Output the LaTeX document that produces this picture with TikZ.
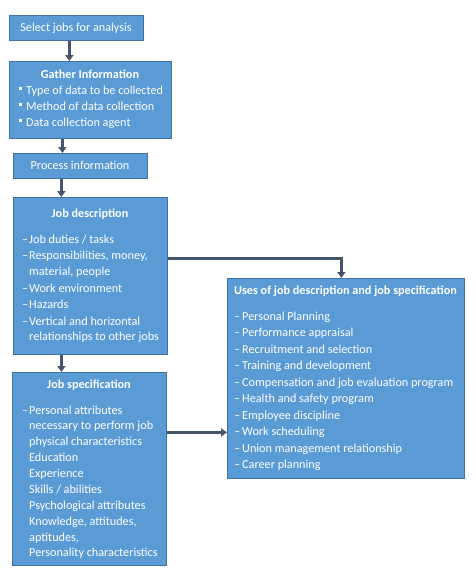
\documentclass[tikz,border=0pt]{standalone}
\usepackage{fontspec}
\setmainfont{Carlito}
\usetikzlibrary{arrows.meta,calc}
\definecolor{boxfill}{HTML}{5B9BD5}
\definecolor{boxline}{HTML}{41719C}
\definecolor{arrowc}{HTML}{44546A}
\newcommand{\fsz}{\fontsize{12.2}{14}\selectfont}
\tikzset{
  box/.style={draw=boxline, fill=boxfill, line width=0.8pt, inner sep=0pt, anchor=north west},
  txt/.style={text=white, font=\fsz, inner sep=0pt, anchor=base west},
  ttl/.style={text=white, font=\fsz\bfseries, inner sep=0pt, anchor=base},
  ctxt/.style={text=white, font=\fsz, inner sep=0pt, anchor=base},
  conn/.style={draw=arrowc, line width=2.8pt, -{Triangle[width=8pt,length=6pt]}},
  bul/.style={fill=white, inner sep=0pt, minimum size=3pt}
}
\begin{document}
\begin{tikzpicture}[x=1pt,y=-1pt]
\useasboundingbox (0,0) rectangle (475,574);
% boxes
\node[box, minimum width=134pt, minimum height=25pt] (b1) at (9,15) {};
\node[box, minimum width=162pt, minimum height=77pt] (b2) at (9,61) {};
\node[box, minimum width=134pt, minimum height=25pt] (b3) at (13,153) {};
\node[box, minimum width=154pt, minimum height=157pt] (b4) at (13,197) {};
\node[box, minimum width=154pt, minimum height=193pt] (b5) at (12,372) {};
\node[box, minimum width=237pt, minimum height=200pt] (b6) at (227,278) {};
% box 1
\node[ctxt] (t1) at (76,31) {Select jobs for analysis};
% box 2
\node[ttl] (t2) at (90,78) {Gather Information};
\foreach \y/\t [count=\i] in {94/Type of data to be collected,110/Method of data collection,126/Data collection agent}{
  \node[txt] (g\i) at (26,\y) {\t};
  \node[bul] (gb\i) at (20.5,\y-5.5) {};
}
% box 3
\node[ctxt] (t3) at (80,169) {Process information};
% box 4
\node[ttl] (t4) at (90,217) {Job description};
\foreach \y [count=\i] in {243,259,292,308,325}{
  \node[txt] (dd\i) at (22,\y) {--};
}
\foreach \y/\t [count=\i] in {243/{Job duties / tasks},259/{Responsibilities, money,},275/{material, people},292/Work environment,308/Hazards,325/Vertical and horizontal,340/relationships to other jobs}{
  \node[txt] (d\i) at (29,\y) {\t};
}
% box 5
\node[ttl] (t5) at (89,388) {Job specification};
\node[txt] (sd1) at (22,414) {--};
\foreach \y/\t [count=\i] in {414/Personal attributes,429/necessary to perform job,445/physical characteristics,461/Education,477/Experience,493/{Skills / abilities},509/Psychological attributes,525/{Knowledge, attitudes,},541/{aptitudes,},556/Personality characteristics}{
  \node[txt] (s\i) at (29,\y) {\t};
}
% box 6
\node[ttl] (t6) at (345.5,294) {Uses of job description and job specification};
\foreach \y/\t [count=\i] in {320/Personal Planning,336/Performance appraisal,353/Recruitment and selection,369/Training and development,386/Compensation and job evaluation program,402/Health and safety program,419/Employee discipline,435/Work scheduling,452/Union management relationship,468/Career planning}{
  \node[txt] (ud\i) at (234,\y) {--};
  \node[txt] (u\i) at (242,\y) {\t};
}
% connectors
\draw[conn] ([xshift=-7pt]b1.south) -- ([xshift=-7pt]b1.south |- b2.north);
\draw[conn] ([xshift=-28pt]b2.south) -- ([xshift=-28pt]b2.south |- b3.north);
\draw[conn] ([xshift=-19pt]b3.south) -- ([xshift=-19pt]b3.south |- b4.north);
\draw[conn] ([xshift=-29pt]b4.south) -- ([xshift=-29pt]b4.south |- b5.north);
\draw[conn] ([yshift=17.5pt]b4.east) -| ([xshift=-4.5pt]b6.north);
\draw[conn] ([yshift=36.5pt]b5.east) -- ([yshift=36.5pt]b5.east -| b6.west);
\end{tikzpicture}
\end{document}
